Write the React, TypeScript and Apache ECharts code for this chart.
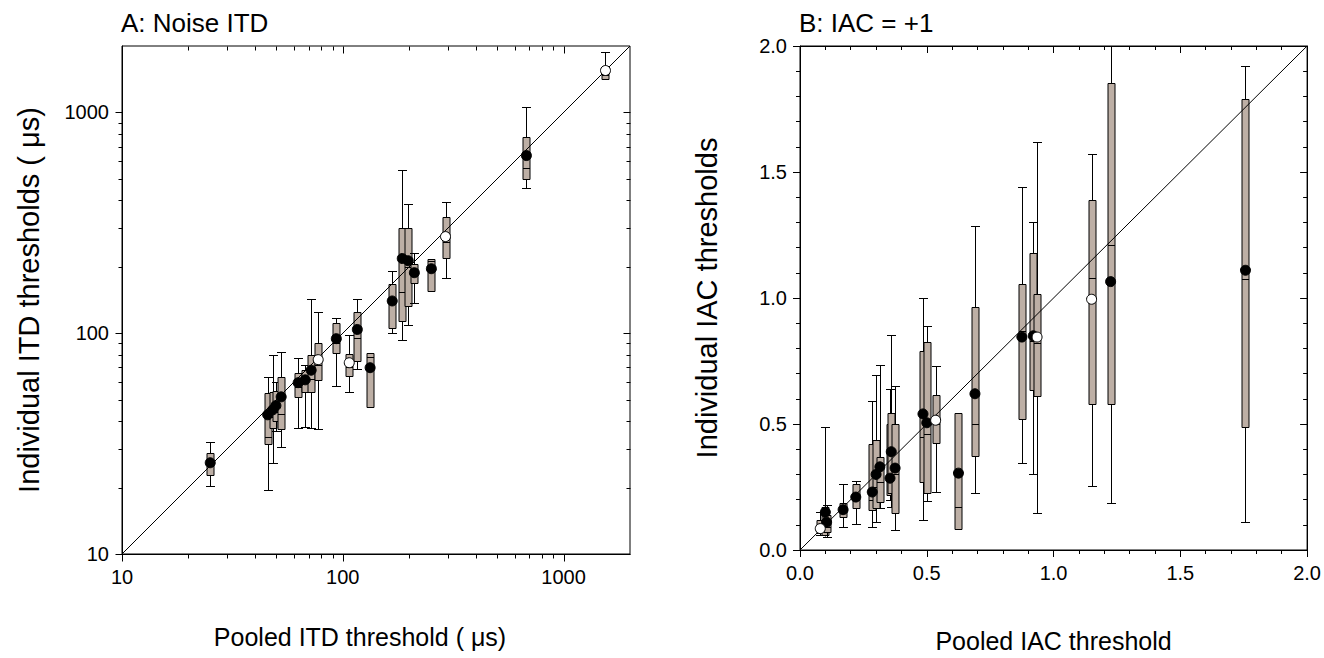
import React, { useEffect, useRef } from "react";
import * as echarts from "echarts";

// ---------- Panel A: Noise ITD (log-log) ----------
const itdPooled = [25.1, 45.7, 48.2, 49.8, 52.6, 62.8, 67.6, 71.9, 77.4, 93.5, 107, 116.4, 133, 167.5, 186, 198, 211, 252, 292, 679, 1549];
const itdLow = [20.3, 19.5, 25.9, 36, 30.6, 37.2, 37.5, 37.2, 37, 57.8, 54.3, 69, 46.5, 100.5, 93.5, 109, 137, 156, 177, 457, 1412];
const itdQ1 = [22.8, 31.5, 37.2, 40, 36.9, 51.5, 54.3, 54, 61.5, 81.7, 64.1, 75, 46.5, 106, 114, 133, 168, 156, 220, 502, 1412];
const itdMedian = [25, 34, 41.8, 44, 43, 57, 60, 62, 72, 90, 70, 95, 78, 135, 154, 200, 185, 212, 260, 563, 1480];
const itdQ3 = [28.7, 53.7, 54.3, 55, 63.5, 66.2, 68.5, 80, 90.6, 111.7, 80.7, 125, 81.7, 167.5, 301, 301, 205, 218, 337, 771, 1566];
const itdHigh = [32.2, 63.5, 79.8, 60, 82.4, 77.4, 72, 143, 125, 117.5, 98.4, 143, 81.7, 192, 551, 386, 232, 218, 391, 1054, 1871];
const itdMean = [25.9, 42.7, 45.0, 47, 51.5, 59.7, 61.5, 68, 75.9, 94.5, 73.5, 104, 69.8, 140, 218, 213, 188, 196, 274, 638, 1549];
const itdOpen = [0, 0, 0, 0, 0, 0, 0, 0, 1, 0, 1, 0, 0, 0, 0, 0, 0, 0, 1, 0, 1];

const itdMajorTicks = [10, 100, 1000];
const itdMinorTicks = [20, 30, 40, 50, 60, 70, 80, 90, 200, 300, 400, 500, 600, 700, 800, 900];

// ---------- Panel B: IAC = +1 (linear) ----------
const iacPooled = [0.08, 0.10, 0.105, 0.17, 0.22, 0.285, 0.30, 0.315, 0.355, 0.36, 0.375, 0.485, 0.50, 0.535, 0.625, 0.69, 0.875, 0.92, 0.935, 1.15, 1.225, 1.757];
const iacLow = [0.06, 0.055, 0.05, 0.09, 0.105, 0.09, 0.11, 0.165, 0.2, 0.17, 0.08, 0.12, 0.195, 0.23, 0.085, 0.225, 0.345, 0.30, 0.145, 0.255, 0.185, 0.11];
const iacQ1 = [0.067, 0.06, 0.07, 0.13, 0.165, 0.157, 0.165, 0.19, 0.22, 0.225, 0.145, 0.27, 0.225, 0.425, 0.085, 0.375, 0.52, 0.635, 0.61, 0.58, 0.58, 0.49];
const iacMedian = [0.08, 0.10, 0.09, 0.15, 0.2, 0.2, 0.25, 0.27, 0.3, 0.3, 0.3, 0.45, 0.46, 0.5, 0.17, 0.50, 0.87, 0.83, 0.82, 1.08, 1.21, 1.075];
const iacQ3 = [0.118, 0.17, 0.14, 0.185, 0.26, 0.42, 0.435, 0.37, 0.5, 0.545, 0.50, 0.79, 0.825, 0.615, 0.545, 0.965, 1.057, 1.18, 1.015, 1.39, 1.855, 1.79];
const iacHigh = [0.15, 0.49, 0.18, 0.26, 0.275, 0.59, 0.695, 0.735, 0.64, 0.855, 0.65, 1.0, 0.89, 0.73, 0.545, 1.285, 1.44, 1.30, 1.62, 1.57, 2.0, 1.92];
const iacMean = [0.085, 0.15, 0.11, 0.16, 0.21, 0.23, 0.30, 0.33, 0.285, 0.39, 0.325, 0.54, 0.505, 0.515, 0.305, 0.62, 0.845, 0.85, 0.845, 0.995, 1.065, 1.11];
const iacOpen = [1, 0, 0, 0, 0, 0, 0, 0, 0, 0, 0, 0, 0, 1, 0, 0, 0, 0, 1, 1, 0, 0];

const FONT = "'Liberation Sans', Arial, Helvetica, sans-serif";
const BOX_FILL = "#bdafa5";

function boxSeries(pooled: number[], low: number[], q1: number[], med: number[], q3: number[], high: number[], axisIdx: number) {
  return {
    type: "custom",
    xAxisIndex: axisIdx,
    yAxisIndex: axisIdx,
    silent: true,
    z: 2,
    encode: { x: 0, y: [1, 2, 3, 4, 5] },
    data: pooled.map((x, i) => [x, low[i], q1[i], med[i], q3[i], high[i]]),
    renderItem: (params: any, api: any) => {
      const x = api.value(0);
      const px = Math.round(api.coord([x, api.value(3)])[0]) + 0.5;
      const yy = (k: number) => Math.round(api.coord([x, api.value(k)])[1]) + 0.5;
      const yl = yy(1), yq1 = yy(2), ym = yy(3), yq3 = yy(4), yh = yy(5);
      const bw = 7, cw = 9;
      const st = { stroke: "#000", lineWidth: 1 };
      const children: any[] = [
        { type: "line", shape: { x1: px, y1: yl, x2: px, y2: yh }, style: st },
      ];
      if (Math.abs(yl - yq1) > 1) children.push({ type: "line", shape: { x1: px - cw / 2, y1: yl, x2: px + cw / 2, y2: yl }, style: st });
      if (Math.abs(yh - yq3) > 1) children.push({ type: "line", shape: { x1: px - cw / 2, y1: yh, x2: px + cw / 2, y2: yh }, style: st });
      children.push({ type: "rect", shape: { x: px - bw / 2, y: yq3, width: bw, height: yq1 - yq3 }, style: { fill: BOX_FILL, stroke: "#000", lineWidth: 1 } });
      children.push({ type: "line", shape: { x1: px - bw / 2, y1: ym, x2: px + bw / 2, y2: ym }, style: st });
      return { type: "group", children };
    },
  };
}

function logTickSeries(values: number[], len: number) {
  return {
    type: "custom",
    xAxisIndex: 0,
    yAxisIndex: 0,
    silent: true,
    clip: false,
    z: 6,
    encode: { x: 0, y: 1 },
    data: values.map((v) => [v, v]),
    renderItem: (params: any, api: any) => {
      const cs = params.coordSys;
      const v = api.value(0);
      const px = Math.round(api.coord([v, 10])[0]) + 0.5;
      const py = Math.round(api.coord([10, v])[1]) + 0.5;
      const L = Math.round(cs.x) + 0.5, R = Math.round(cs.x + cs.width) + 0.5;
      const T = Math.round(cs.y) + 0.5, B = Math.round(cs.y + cs.height) + 0.5;
      const st = { stroke: "#000", lineWidth: 1 };
      return {
        type: "group",
        children: [
          { type: "line", shape: { x1: px, y1: B, x2: px, y2: B + len }, style: st },
          { type: "line", shape: { x1: px, y1: T, x2: px, y2: T + len }, style: st },
          { type: "line", shape: { x1: L - len, y1: py, x2: L, y2: py }, style: st },
          { type: "line", shape: { x1: R - len, y1: py, x2: R, y2: py }, style: st },
        ],
      };
    },
  };
}

function meanSeries(pooled: number[], mean: number[], open: number[], wantOpen: number, axisIdx: number) {
  return {
    type: "scatter",
    xAxisIndex: axisIdx,
    yAxisIndex: axisIdx,
    silent: true,
    z: 5,
    symbol: "circle",
    symbolSize: 10,
    itemStyle: { color: wantOpen ? "#fff" : "#000", borderColor: "#000", borderWidth: 1, opacity: 1 },
    data: pooled.map((x, i) => [x, mean[i], open[i]]).filter((d) => d[2] === wantOpen).map((d) => [d[0], d[1]]),
  };
}

const isDecade = (v: number) => Math.abs(Math.log10(v) - Math.round(Math.log10(v))) < 1e-6;

export default function App() {
  const ref = useRef<HTMLDivElement>(null);
  useEffect(() => {
    if (!ref.current) return;
    const chart = echarts.init(ref.current, undefined, { renderer: "svg" });
    const axisLineBlack = { show: true, onZero: false, lineStyle: { color: "#000", width: 1 } };
    const labelStyle = { color: "#000", fontSize: 20, fontFamily: FONT };
    const xNameStyle = { color: "#000", fontSize: 25, fontFamily: FONT };
    const yNameStyle = { color: "#000", fontSize: 29, fontFamily: FONT };
    const option: any = {
      animation: false,
      backgroundColor: "#fff",
      title: [
        { text: "A: Noise ITD", left: 121, top: 10, padding: 0, textStyle: { fontSize: 26, fontWeight: "normal", color: "#000", fontFamily: FONT } },
        { text: "B: IAC = +1", left: 799, top: 10, padding: 0, textStyle: { fontSize: 26, fontWeight: "normal", color: "#000", fontFamily: FONT } },
      ],
      grid: [
        { left: 122, top: 46, width: 508, height: 508, show: true, borderColor: "#000", borderWidth: 1, backgroundColor: "transparent" },
        { left: 800, top: 46, width: 510, height: 509, show: true, borderColor: "#000", borderWidth: 1, backgroundColor: "transparent" },
      ],
      xAxis: [
        {
          type: "log", logBase: 10, min: 10, max: 2000, gridIndex: 0,
          axisLine: axisLineBlack, axisTick: { show: false }, splitLine: { show: false },
          axisLabel: { ...labelStyle, margin: 13, formatter: (v: number) => (isDecade(v) ? String(Math.round(v)) : "") },
          name: "Pooled ITD threshold ( μs)", nameLocation: "middle", nameGap: 70,
          nameTextStyle: { ...xNameStyle, padding: [0, 32, 0, 0] },
        },
        {
          type: "value", min: 0, max: 2, interval: 0.5, gridIndex: 1,
          axisLine: axisLineBlack, splitLine: { show: false },
          axisTick: { show: true, inside: false, length: 7, lineStyle: { color: "#000" } },
          minorTick: { show: true, splitNumber: 5, length: 4, lineStyle: { color: "#000" } },
          axisLabel: { ...labelStyle, margin: 13, formatter: (v: number) => v.toFixed(1) },
          name: "Pooled IAC threshold", nameLocation: "middle", nameGap: 78, nameTextStyle: xNameStyle,
        },
        {
          type: "value", min: 0, max: 2, interval: 0.5, gridIndex: 1, position: "top",
          axisLine: axisLineBlack, splitLine: { show: false }, axisLabel: { show: false },
          axisTick: { show: true, inside: true, length: 7, lineStyle: { color: "#000" } },
          minorTick: { show: true, splitNumber: 5, length: 4, lineStyle: { color: "#000" } },
        },
      ],
      yAxis: [
        {
          type: "log", logBase: 10, min: 10, max: 2000, gridIndex: 0,
          axisLine: axisLineBlack, axisTick: { show: false }, splitLine: { show: false },
          axisLabel: { ...labelStyle, margin: 13, formatter: (v: number) => (isDecade(v) ? String(Math.round(v)) : "") },
          name: "Individual ITD thresholds ( μs)", nameLocation: "middle", nameGap: 79, nameTextStyle: yNameStyle,
        },
        {
          type: "value", min: 0, max: 2, interval: 0.5, gridIndex: 1,
          axisLine: axisLineBlack, splitLine: { show: false },
          axisTick: { show: true, inside: false, length: 7, lineStyle: { color: "#000" } },
          minorTick: { show: true, splitNumber: 5, length: 4, lineStyle: { color: "#000" } },
          axisLabel: { ...labelStyle, margin: 13, formatter: (v: number) => v.toFixed(1) },
          name: "Individual IAC thresholds", nameLocation: "middle", nameGap: 79, nameTextStyle: yNameStyle,
        },
        {
          type: "value", min: 0, max: 2, interval: 0.5, gridIndex: 1, position: "right",
          axisLine: axisLineBlack, splitLine: { show: false }, axisLabel: { show: false },
          axisTick: { show: true, inside: true, length: 7, lineStyle: { color: "#000" } },
          minorTick: { show: true, splitNumber: 5, length: 4, lineStyle: { color: "#000" } },
        },
      ],
      series: [
        boxSeries(itdPooled, itdLow, itdQ1, itdMedian, itdQ3, itdHigh, 0),
        {
          type: "line", xAxisIndex: 0, yAxisIndex: 0, z: 3, silent: true, symbol: "none",
          lineStyle: { color: "#000", width: 1 }, data: [[10, 10], [2000, 2000]],
        },
        meanSeries(itdPooled, itdMean, itdOpen, 0, 0),
        meanSeries(itdPooled, itdMean, itdOpen, 1, 0),
        logTickSeries(itdMajorTicks, 7),
        logTickSeries(itdMinorTicks, 4),
        boxSeries(iacPooled, iacLow, iacQ1, iacMedian, iacQ3, iacHigh, 1),
        {
          type: "line", xAxisIndex: 1, yAxisIndex: 1, z: 3, silent: true, symbol: "none",
          lineStyle: { color: "#000", width: 1 }, data: [[0, 0], [2, 2]],
        },
        meanSeries(iacPooled, iacMean, iacOpen, 0, 1),
        meanSeries(iacPooled, iacMean, iacOpen, 1, 1),
      ],
    };
    chart.setOption(option);
    return () => chart.dispose();
  }, []);
  return <div ref={ref} style={{ position: "fixed", left: 0, top: 0, width: 1324, height: 658, background: "#fff" }} />;
}
